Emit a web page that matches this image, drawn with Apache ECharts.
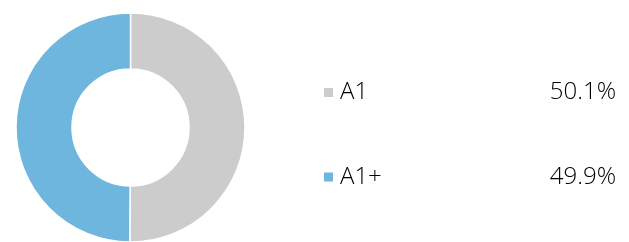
<!DOCTYPE html>
<html><head><meta charset="utf-8">
<script src="https://cdn.jsdelivr.net/npm/echarts@6/dist/echarts.min.js"></script>
<style>html,body{margin:0;padding:0;background:#fff}#c{width:629px;height:242px}</style>
</head><body><div id="c"></div>
<script>
var categories = ['A1', 'A1+'];
var values = [50.1, 49.9];
var colors = ['#cccccc', '#6eb6de'];

var chart = echarts.init(document.getElementById('c'), null, {renderer: 'canvas'});
var lookup = {};
categories.forEach(function (c, i) { lookup[c] = values[i]; });
var font = {fontFamily: 'Open Sans', fontSize: 24, fontWeight: 300, color: '#000', lineHeight: 22};
chart.setOption({
  animation: false,
  color: colors,
  legend: {
    orient: 'vertical',
    left: 322,
    top: 80.5,
    padding: 0,
    itemWidth: 11,
    itemHeight: 11,
    itemGap: 60.5,
    icon: 'rect',
    selectedMode: false,
    data: categories,
    formatter: function (name) {
      return '{n|' + name + '}{p|' + lookup[name].toFixed(1) + '%}';
    },
    textStyle: Object.assign({}, font, {
      padding: [0, 0, 0, 1],
      rich: {
        n: Object.assign({}, font, {width: 200}),
        p: Object.assign({}, font, {width: 76, align: 'right'})
      }
    })
  },
  series: [{
    type: 'pie',
    center: [130.5, 127.5],
    radius: [58.5, 114.5],
    startAngle: 90,
    clockwise: true,
    label: {show: false},
    labelLine: {show: false},
    emphasis: {disabled: true},
    itemStyle: {borderColor: '#fff', borderWidth: 1.5},
    data: categories.map(function (c, i) { return {name: c, value: values[i]}; })
  }]
});
</script></body></html>
